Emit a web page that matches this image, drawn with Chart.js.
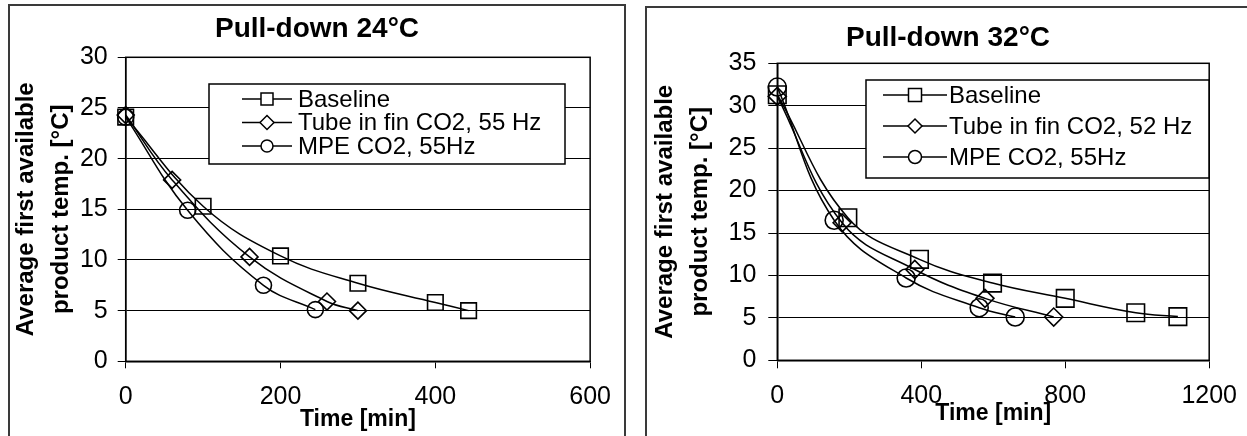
<!DOCTYPE html>
<html>
<head>
<meta charset="utf-8">
<script src="https://cdn.jsdelivr.net/npm/chart.js@4/dist/chart.umd.min.js"></script>
<style>
  html, body { margin: 0; padding: 0; background: #fff; }
  body { width: 1247px; height: 436px; overflow: hidden; position: relative; }
  .panel { position: absolute; border: 2px solid #3a3a3a; box-sizing: border-box; }
  canvas { position: absolute; }
</style>
</head>
<body>
<div class="panel" style="left:8px; top:4px; width:618px; height:470px;"></div>
<div class="panel" style="left:645px; top:6px; width:700px; height:470px;"></div>
<canvas id="pull24" width="616" height="440" style="left:9px; top:6px;"></canvas>
<canvas id="pull32" width="604" height="440" style="left:646px; top:7px;"></canvas>
<script>
"use strict";

// ---- data ----
const labels24 = ["Baseline", "Tube in fin CO2, 55 Hz", "MPE CO2, 55Hz"]
const base24Time = [0, 100, 200, 300, 400, 443]
const base24Temp = [24.1, 15.3, 10.4, 7.7, 5.8, 5.0]
const tube24Time = [0, 60, 160, 260, 300]
const tube24Temp = [24.3, 17.9, 10.3, 5.9, 5.0]
const mpe24Time = [0, 80, 178, 245]
const mpe24Temp = [24.1, 14.9, 7.5, 5.1]
const xTicks24 = [0, 200, 400, 600]
const yTicks24 = [0, 5, 10, 15, 20, 25, 30]

const labels32 = ["Baseline", "Tube in fin CO2, 52 Hz", "MPE CO2, 55Hz"]
const base32Time = [0, 196, 395, 598, 800, 996, 1113]
const base32Temp = [31.3, 16.8, 11.9, 9.1, 7.3, 5.6, 5.15]
const tube32Time = [0, 180, 382, 577, 768]
const tube32Temp = [31.1, 16.2, 10.7, 7.3, 5.1]
const mpe32Time = [0, 158, 358, 561, 661]
const mpe32Temp = [32.2, 16.5, 9.7, 6.2, 5.1]
const xTicks32 = [0, 400, 800, 1200]
const yTicks32 = [0, 5, 10, 15, 20, 25, 30, 35]

const FONT = "'Liberation Sans', Arial, Helvetica, sans-serif"

function pairs(xs, ys) {
    return xs.map((x, i) => ({x: x, y: ys[i]}))
}

function marker(ctx, style, x, y, s) {
    ctx.beginPath()
    if (style == "rect") {
        ctx.rect(x - s, y - s, 2 * s, 2 * s)
    } else if (style == "rectRot") {
        ctx.moveTo(x - s, y)
        ctx.lineTo(x, y - s)
        ctx.lineTo(x + s, y)
        ctx.lineTo(x, y + s)
        ctx.closePath()
    } else {
        ctx.arc(x, y, s, 0, Math.PI * 2)
    }
    ctx.fillStyle = "#fff"
    ctx.fill()
    ctx.stroke()
}

// black box around the plot area
const plotFrame = {
    id: "plotFrame",
    beforeDatasetsDraw(chart) {
        const a = chart.chartArea
        const ctx = chart.ctx
        ctx.save()
        ctx.strokeStyle = "#000"
        ctx.lineWidth = 1.5
        ctx.strokeRect(a.left, a.top, a.right - a.left, a.bottom - a.top)
        ctx.restore()
    }
}

// legend box drawn inside the plot, like the spreadsheet one
const boxLegend = {
    id: "boxLegend",
    afterDraw(chart, args, o) {
        const ctx = chart.ctx
        ctx.save()
        ctx.fillStyle = "#fff"
        ctx.fillRect(o.left, o.top, o.width, o.height)
        ctx.strokeStyle = "#000"
        ctx.lineWidth = 1.5
        ctx.strokeRect(o.left, o.top, o.width, o.height)
        chart.data.datasets.forEach((ds, i) => {
            const y = o.top + o.first + i * o.rowH
            ctx.strokeStyle = "#000"
            ctx.lineWidth = 1.5
            ctx.beginPath()
            ctx.moveTo(o.lineX0, y)
            ctx.lineTo(o.lineX1, y)
            ctx.stroke()
            marker(ctx, ds.pointStyle, (o.lineX0 + o.lineX1) / 2, y, o.marks[i])
            ctx.fillStyle = "#000"
            ctx.font = o.fontSize + "px " + FONT
            ctx.textBaseline = "middle"
            ctx.textAlign = "left"
            ctx.fillText(ds.label, o.textX, y + 1)
        })
        ctx.restore()
    }
}

function makeChart(id, c) {
    const styles = ["rect", "rectRot", "circle"]
    const series = [[c.bx, c.by], [c.tx, c.ty], [c.mx, c.my]]
    const datasets = series.map((s, i) => ({
        label: c.labels[i],
        data: pairs(s[0], s[1]),
        borderColor: "#000",
        borderWidth: 1.5,
        tension: 0.4,
        pointStyle: styles[i],
        pointRadius: c.radii[i],
        pointBorderWidth: 1.6,
        pointBorderColor: "#000",
        pointBackgroundColor: "rgba(0,0,0,0)",
        clip: false
    }))

    const config = {
        type: "line",
        data: {datasets: datasets},
        plugins: [plotFrame, boxLegend],
        options: {
            responsive: false,
            animation: false,
            devicePixelRatio: 1,
            layout: {padding: 0},
            plugins: {
                legend: {display: false},
                tooltip: {enabled: false},
                title: {
                    display: true,
                    text: c.title,
                    color: "#000",
                    font: {family: FONT, size: 28, weight: "bold", lineHeight: 1.2},
                    padding: {top: c.titleTop, bottom: c.titleBottom}
                },
                boxLegend: c.legend
            },
            scales: {
                x: {
                    type: "linear",
                    min: c.xTicks[0],
                    max: c.xTicks[c.xTicks.length - 1],
                    afterBuildTicks: s => { s.ticks = c.xTicks.map(v => ({value: v})) },
                    grid: {drawOnChartArea: false, color: "#000", tickLength: c.xTickLen, lineWidth: 1},
                    border: {color: "#000", width: 1.5},
                    ticks: {color: "#000", padding: c.xPad, maxRotation: 0, callback: v => String(v),
                            font: {family: FONT, size: 25}},
                    title: {
                        display: true,
                        text: "Time [min]",
                        color: "#000",
                        font: {family: FONT, size: 23, weight: "bold", lineHeight: 1.2},
                        padding: {top: 0, bottom: c.xTitleBottom}
                    },
                    afterFit: s => { s.height = c.xHeight }
                },
                y: {
                    type: "linear",
                    min: c.yTicks[0],
                    max: c.yTicks[c.yTicks.length - 1],
                    afterBuildTicks: s => { s.ticks = c.yTicks.map(v => ({value: v})) },
                    grid: {color: "#000", lineWidth: 1, tickLength: c.yTickLen},
                    border: {color: "#000", width: 1.5},
                    ticks: {color: "#000", padding: c.yPad, callback: v => String(v),
                            font: {family: FONT, size: 25}},
                    title: {
                        display: true,
                        text: ["Average first available", "product temp. [°C]"],
                        color: "#000",
                        font: {family: FONT, size: 24, weight: "bold", lineHeight: 1.43},
                        padding: {top: c.yTitleTop, bottom: 0}
                    },
                    afterFit: s => { s.width = c.yWidth }
                },
                pad: {
                    type: "linear",
                    position: "right",
                    display: true,
                    grid: {display: false},
                    border: {display: false},
                    ticks: {display: false},
                    afterFit: s => { s.width = c.rightPad }
                }
            }
        }
    }
    return new Chart(document.getElementById(id), config)
}

makeChart("pull24", {
    title: "Pull-down 24°C",
    labels: labels24,
    bx: base24Time, by: base24Temp,
    tx: tube24Time, ty: tube24Temp,
    mx: mpe24Time, my: mpe24Temp,
    xTicks: xTicks24, yTicks: yTicks24,
    radii: [11, 8.5, 8],
    titleTop: 6.2, titleBottom: 11.5,
    xHeight: 84.7, xTickLen: 7, xPad: 14, xTitleBottom: 12.2,
    yWidth: 116.7, yTickLen: 8, yPad: 10, yTitleTop: 0.5,
    rightPad: 24.3,
    legend: {left: 200, top: 78, width: 356, height: 80, first: 15, rowH: 23.5,
             lineX0: 233, lineX1: 283, textX: 289, fontSize: 24, marks: [6, 7, 6]}
})

makeChart("pull32", {
    title: "Pull-down 32°C",
    labels: labels32,
    bx: base32Time, by: base32Temp,
    tx: tube32Time, ty: tube32Temp,
    mx: mpe32Time, my: mpe32Temp,
    xTicks: xTicks32, yTicks: yTicks32,
    radii: [12.4, 9, 9],
    titleTop: 14.2, titleBottom: 8.5,
    xHeight: 86.7, xTickLen: 8, xPad: 13, xTitleBottom: 19.2,
    yWidth: 131.3, yTickLen: 9, yPad: 12, yTitleTop: 2.5,
    rightPad: 33.7,
    legend: {left: 220, top: 73, width: 343, height: 98, first: 15, rowH: 31,
             lineX0: 237, lineX1: 301, textX: 303, fontSize: 24, marks: [6.5, 7, 6.5]}
})
</script>
</body>
</html>
